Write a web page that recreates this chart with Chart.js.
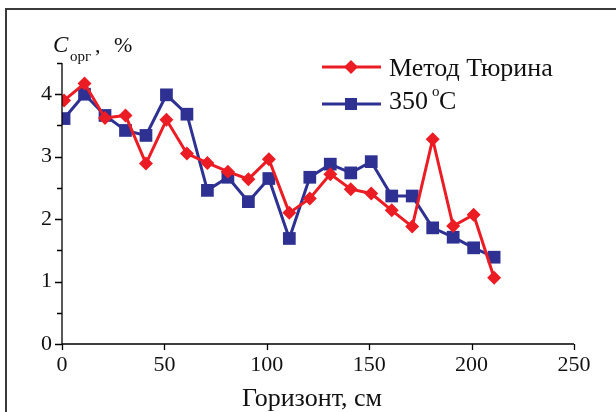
<!DOCTYPE html>
<html>
<head>
<meta charset="utf-8">
<script src="https://cdn.jsdelivr.net/npm/chart.js@4.4.1/dist/chart.umd.min.js"></script>
<style>
  html, body { margin: 0; padding: 0; background: #fff; }
  #wrap { width: 616px; height: 412px; }
</style>
</head>
<body>
<div id="wrap"><canvas id="myChart" width="616" height="412"></canvas></div>
<script>
// horizon depth, cm
var depth = [1, 11, 21, 31, 41, 51, 61, 71, 81, 91, 101, 111, 121, 131, 141, 151, 161, 171, 181, 191, 201, 211];
// C org, % - Tyurin method
var tyurin = [3.90, 4.17, 3.62, 3.66, 2.89, 3.59, 3.05, 2.90, 2.76, 2.64, 2.96, 2.10, 2.33, 2.72, 2.48, 2.41, 2.14, 1.88, 3.28, 1.89, 2.07, 1.06];
// C org, % - 350 C
var t350 = [3.61, 4.00, 3.66, 3.42, 3.34, 3.99, 3.68, 2.46, 2.67, 2.28, 2.65, 1.69, 2.67, 2.88, 2.74, 2.92, 2.37, 2.37, 1.86, 1.71, 1.54, 1.39];
var xTicks = [0, 50, 100, 150, 200, 250];
var yTicks = [0, 1, 2, 3, 4];

var RED = '#ec1c24';
var BLUE = '#2e3192';
var SERIF = '"Liberation Serif", "DejaVu Serif", serif';

function pts(ys) {
    return depth.map(function (x, i) { return { x: x, y: ys[i] }; });
}

/*---------------axes, ticks, labels, legend drawn on top-------------- */
var decor = {
    id: 'decor',
    beforeDraw: function (chart) {
        var c = chart.ctx;
        c.save();
        // outer frame (left + top)
        c.fillStyle = '#3a3a3a';
        c.fillRect(5, 8, 2, 404);
        c.fillRect(5, 8, 611, 2);
        c.restore();
    },
    afterDraw: function (chart) {
        var c = chart.ctx;
        var xs = chart.scales.x, ys = chart.scales.y;
        var a = chart.chartArea;
        c.save();
        c.strokeStyle = '#000';
        c.lineWidth = 1.3;
        c.beginPath();
        c.moveTo(a.left, a.top);
        c.lineTo(a.left, a.bottom);
        c.lineTo(a.right, a.bottom);
        // y ticks: majors + minors
        for (var v = 0; v <= 4.5 + 1e-9; v += 0.5) {
            var py = Math.round(ys.getPixelForValue(v)) + 0.5;
            var len = (Math.abs(v - Math.round(v)) < 1e-6) ? 7 : 5;
            c.moveTo(a.left, py);
            c.lineTo(a.left - len, py);
        }
        // x ticks
        xTicks.forEach(function (t) {
            var px = Math.round(xs.getPixelForValue(t)) + 0.5;
            c.moveTo(px, a.bottom);
            c.lineTo(px, a.bottom + 6);
        });
        c.stroke();

        // axis title x
        c.fillStyle = '#111';
        c.font = '26px ' + SERIF;
        c.textAlign = 'center';
        c.textBaseline = 'alphabetic';
        c.fillText('Горизонт, см', 312, 406);

        // axis title y
        c.textAlign = 'left';
        c.font = 'italic 23px ' + SERIF;
        c.fillText('C', 53, 52);
        c.font = '15px ' + SERIF;
        c.fillText('орг', 70, 61);
        c.font = '22px ' + SERIF;
        c.fillText(',', 95, 52);
        c.fillText('%', 114, 52);

        // legend
        var rows = [67, 104];
        chart.data.datasets.forEach(function (ds, i) {
            var y = rows[i];
            c.strokeStyle = ds.borderColor;
            c.lineWidth = 3;
            c.beginPath();
            c.moveTo(322, y);
            c.lineTo(381, y);
            c.stroke();
            c.fillStyle = ds.borderColor;
            c.beginPath();
            if (ds.pointStyle === 'rectRot') {
                c.moveTo(351, y - 7); c.lineTo(358, y); c.lineTo(351, y + 7); c.lineTo(344, y);
            } else {
                c.rect(345, y - 6, 12, 12);
            }
            c.closePath();
            c.fill();
            c.fillStyle = '#111';
            c.font = '26px ' + SERIF;
            c.textAlign = 'left';
            if (i === 0) {
                c.fillText(ds.label, 389, 76);
            } else {
                c.fillText('350', 389, 109);
                c.font = '15px ' + SERIF;
                c.fillText('o', 432, 96);
                c.font = '26px ' + SERIF;
                c.fillText('C', 439, 109);
            }
        });
        c.restore();
    }
};

var ctx = document.getElementById('myChart').getContext('2d');
var chart = new Chart(ctx, {
    type: 'line',
    data: {
        datasets: [{
            label: 'Метод Тюрина',
            data: pts(tyurin),
            borderColor: RED,
            backgroundColor: RED,
            borderWidth: 3,
            pointStyle: 'rectRot',
            pointRadius: 7,
            pointBorderWidth: 0,
            tension: 0
        },
        {
            label: '350 °C',
            data: pts(t350),
            borderColor: BLUE,
            backgroundColor: BLUE,
            borderWidth: 3,
            pointStyle: 'rect',
            pointRadius: 9,
            pointBorderWidth: 0,
            tension: 0
        }]
    },
    options: {
        responsive: false,
        animation: false,
        events: [],
        layout: { padding: { left: 0, top: 63, right: 42, bottom: 0 } },
        plugins: { legend: { display: false }, tooltip: { enabled: false } },
        scales: {
            x: {
                type: 'linear',
                min: 0, max: 250,
                afterFit: function (s) { s.height = 68; },
                afterBuildTicks: function (s) { s.ticks = xTicks.map(function (v) { return { value: v }; }); },
                grid: { display: false },
                border: { display: false },
                ticks: { color: '#111', padding: 0, maxRotation: 0, font: { family: SERIF, size: 22 } }
            },
            y: {
                min: 0, max: 4.5,
                afterFit: function (s) { s.width = 62; },
                afterBuildTicks: function (s) { s.ticks = yTicks.map(function (v) { return { value: v }; }); },
                grid: { display: false },
                border: { display: false },
                ticks: { color: '#111', padding: 2, font: { family: SERIF, size: 22 } }
            }
        }
    },
    plugins: [decor]
});
</script>
</body>
</html>
